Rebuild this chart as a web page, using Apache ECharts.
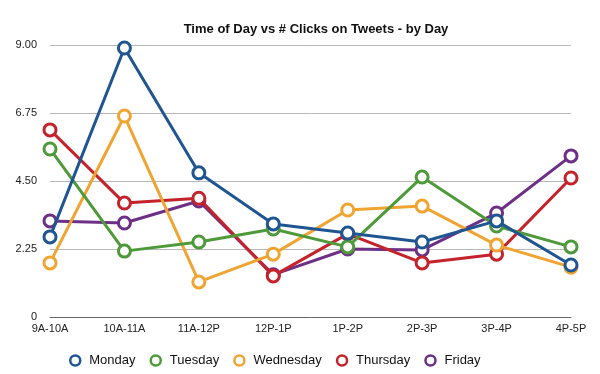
<!DOCTYPE html>
<html><head><meta charset="utf-8">
<script src="https://cdn.jsdelivr.net/npm/echarts@6/dist/echarts.min.js"></script>
<style>html,body{margin:0;padding:0;background:#fff}#c{width:600px;height:374px}</style>
</head><body><div id="c"></div>
<script>
const categories = ['9A-10A','10A-11A','11A-12P','12P-1P','1P-2P','2P-3P','3P-4P','4P-5P'];
const monday    = [2.65, 8.90, 4.77, 3.08, 2.78, 2.48, 3.18, 1.72];
const tuesday   = [5.56, 2.18, 2.48, 2.91, 2.32, 4.63, 3.01, 2.32];
const wednesday = [1.79, 6.65, 1.16, 2.08, 3.54, 3.67, 2.38, 1.65];
const thursday  = [6.19, 3.77, 3.93, 1.36, 2.75, 1.79, 2.08, 4.60];
const friday    = [3.18, 3.11, 3.84, 1.40, 2.25, 2.22, 3.44, 5.33];
const yTicks = [0, 2.25, 4.5, 6.75, 9];

const names = ['Monday','Tuesday','Wednesday','Thursday','Friday'];
const values = [monday, tuesday, wednesday, thursday, friday];
const colors = ['#1f5591','#4e9a3a','#f0a431','#c4232b','#6e2f86'];
const font = '"Liberation Sans", Arial, Helvetica, sans-serif';

const chart = echarts.init(document.getElementById('c'));
chart.setOption({
  animation: false,
  title: {
    text: 'Time of Day vs # Clicks on Tweets - by Day',
    left: 311, top: 18, textAlign: 'center',
    textStyle: {fontFamily: font, fontSize: 13, fontWeight: 'bold', color: '#111'}
  },
  legend: {
    left: 64, top: 349,
    itemWidth: 10, itemHeight: 10, itemGap: 14,
    textStyle: {fontFamily: font, fontSize: 13, color: '#111', padding: [0, 0, 0, 4]},
    data: names.map((n, i) => ({name: n, icon: 'circle',
      itemStyle: {color: '#fff', borderColor: colors[i], borderWidth: 2.5}}))
  },
  grid: {left: 50, right: 29, top: 45, bottom: 57},
  xAxis: {
    type: 'category', data: categories, boundaryGap: false,
    axisLine: {lineStyle: {color: '#666', width: 1}},
    axisTick: {show: false},
    axisLabel: {fontFamily: font, fontSize: 11, color: '#222', margin: 6}
  },
  yAxis: {
    type: 'value', min: 0, max: 9, interval: 2.25,
    axisLine: {show: false}, axisTick: {show: false},
    splitLine: {lineStyle: {color: '#b8b8b8', width: 1}},
    axisLabel: {fontFamily: font, fontSize: 11, color: '#222', margin: 13,
      formatter: v => v === 0 ? '0' : v.toFixed(2)}
  },
  series: names.map((n, i) => ({
    name: n, type: 'line', data: values[i],
    z: 10 - i,
    symbol: 'circle', symbolSize: 12,
    lineStyle: {color: colors[i], width: 3},
    itemStyle: {color: '#fff', borderColor: colors[i], borderWidth: 3},
    emphasis: {disabled: true}
  }))
});
</script></body></html>
